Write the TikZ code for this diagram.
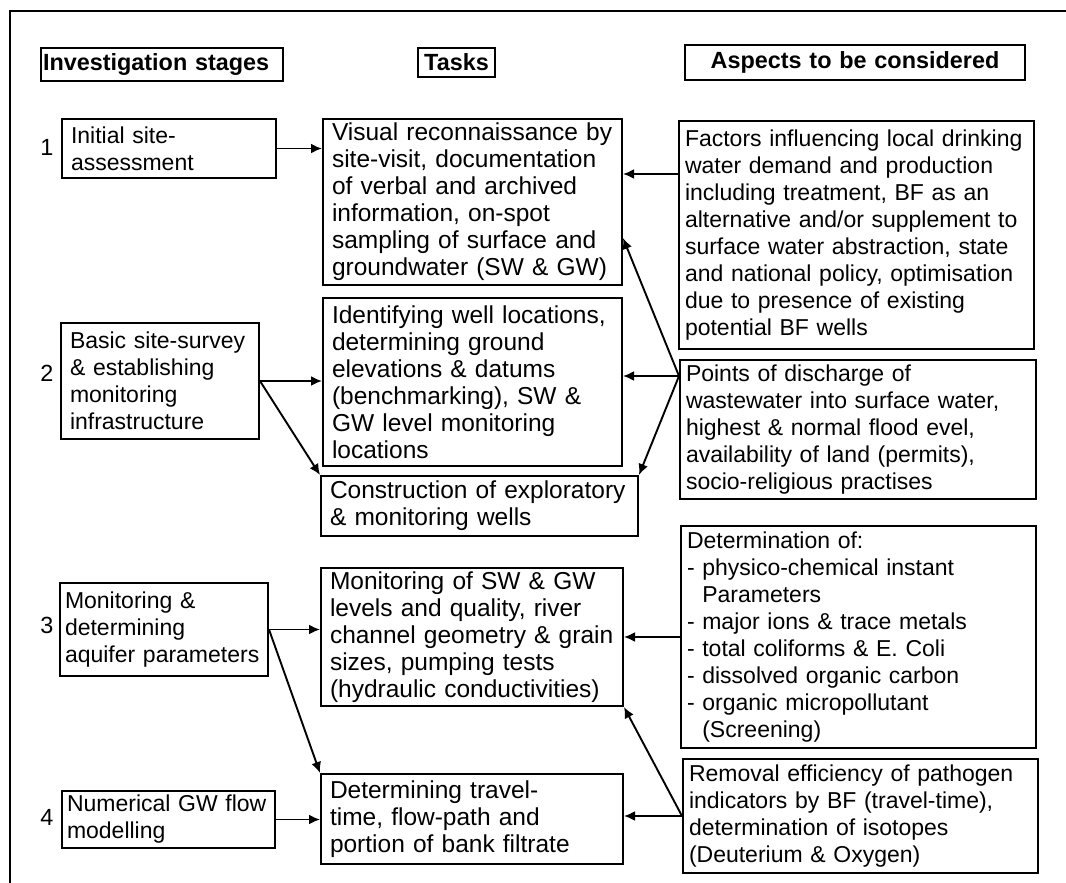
\documentclass[tikz,border=0pt]{standalone}
\usepackage{fontspec}
\setmainfont{Liberation Sans}
\usetikzlibrary{arrows.meta}
\hyphenpenalty=10000
\tikzset{
  box/.style    = {shape=rectangle, draw, anchor=north west, align=left,
                   line width=2pt, inner ysep=2pt},
  stage/.style  = {box, inner xsep=9pt, font=\fontsize{23}{27}\selectfont},
  task/.style   = {box, inner xsep=9pt, font=\fontsize{24.5}{27}\selectfont},
  aspect/.style = {box, inner xsep=6pt, font=\fontsize{23}{27}\selectfont},
  head/.style   = {box, font=\bfseries\fontsize{23.4}{27}\selectfont},
  num/.style    = {font=\fontsize{23.4}{27}\selectfont}
}

\begin{document}
\begin{tikzpicture}
  [
    x                = 1pt,
    y                = -1pt,
    conn/.style      = {draw, line width=1.9pt, -{Latex[length=11pt,width=10pt]}},
    frame/.style     = {draw, line width=2pt}
  ]
  \useasboundingbox (0,0) rectangle (1066,883);
  \draw [frame] (1066,11) -| (10,883);

  \node [head, inner xsep=2pt, text width=238pt, minimum height=33pt] (h1) at (40,47) {Investigation stages};
  \node [head, align=center, inner xsep=3pt, text width=71pt, minimum height=29pt] (h2) at (417,47) {Tasks};
  \node [head, align=center, inner xsep=5pt, text width=330pt, minimum height=35pt] (h3) at (684,44) {Aspects to be considered};

  \node [num] (n1) at (47,147) {1};
  \node [num] (n2) at (47,373) {2};
  \node [num] (n3) at (47,625) {3};
  \node [num] (n4) at (47,817) {4};

  \node [stage, text width=196pt, minimum height=59pt] (s1) at (61,118)
    {Initial site-\\assessment};
  \node [stage, text width=180pt, minimum height=116pt] (s2) at (60,322)
    {Basic site-survey\\\& establishing\\monitoring\\infrastructure};
  \node [stage, inner xsep=5pt, text width=198pt, minimum height=93pt] (s3) at (59,582)
    {Monitoring \&\\determining\\aquifer parameters};
  \node [stage, inner xsep=5pt, text width=203pt, minimum height=57pt] (s4) at (61,790)
    {Numerical GW flow\\modelling};

  \node [task, text width=281pt, minimum height=166pt] (t1) at (322,118)
    {Visual reconnaissance by\\site-visit, documentation\\of verbal and archived\\information, on-spot\\sampling of surface and\\groundwater (SW \& GW)};
  \node [task, text width=281pt, minimum height=168pt] (t2) at (322,297)
    {Identifying well locations,\\determining ground\\elevations \& datums\\(benchmarking), SW \&\\GW level monitoring\\locations};
  \node [task, text width=299pt, minimum height=60pt] (t2b) at (320,475)
    {Construction of exploratory\\\& monitoring wells};
  \node [task, text width=284pt, minimum height=138pt] (t3) at (320,567)
    {Monitoring of SW \& GW\\levels and quality, river\\channel geometry \& grain\\sizes, pumping tests\\(hydraulic conductivities)};
  \node [task, text width=284pt, minimum height=90pt] (t4) at (320,773)
    {Determining travel-\\time, flow-path and\\portion of bank filtrate};

  \node [aspect, text width=343pt, minimum height=228pt] (a1) at (678,120)
    {Factors influencing local drinking\\water demand and production\\including treatment, BF as an\\alternative and/or supplement to\\surface water abstraction, state\\and national policy, optimisation\\due to presence of existing\\potential BF wells};
  \node [aspect, text width=344pt, minimum height=139pt] (a2) at (679,359)
    {Points of discharge of\\wastewater into surface water,\\highest \& normal flood evel,\\availability of land (permits),\\socio-religious practises};
  \node [aspect, text width=343pt, minimum height=222pt] (a3) at (680,525)
    {Determination of:\\- physico-chemical instant\\\phantom{-} Parameters\\- major ions \& trace metals\\- total coliforms \& E. Coli\\- dissolved organic carbon\\- organic micropollutant\\\phantom{-} (Screening)};
  \node [aspect, text width=343pt, minimum height=114pt] (a4) at (682,758)
    {Removal efficiency of pathogen\\indicators by BF (travel-time),\\determination of isotopes\\(Deuterium \& Oxygen)};

  \coordinate (p1) at ([yshift=-54pt]a1.north west);
  \coordinate (p2) at ([yshift=-17pt]a2.north west);
  \coordinate (q1) at ([yshift=48pt]t1.south east);

  \draw [conn] (s1.east) -- (s1.east -| t1.west);
  \draw [conn] (p1) -- (p1 -| t1.east);
  \draw [conn] (s2.east) -- (s2.east -| t2.west);
  \draw [conn] (s2.east) -- (t2b.north west);
  \draw [conn] (p2) -- (p2 -| t2.east);
  \draw [conn] (p2) -- (q1);
  \draw [conn] (p2) -- (t2b.north east);
  \draw [conn] (s3.east) -- (s3.east -| t3.west);
  \draw [conn] (s3.east) -- (t4.north west);
  \draw [conn] (a3.west) -- (a3.west -| t3.east);
  \draw [conn] (s4.east) -- (s4.east -| t4.west);
  \draw [conn] (a4.west) -- (a4.west -| t4.east);
  \draw [conn] (a4.west) -- (t3.south east);
\end{tikzpicture}
\end{document}
